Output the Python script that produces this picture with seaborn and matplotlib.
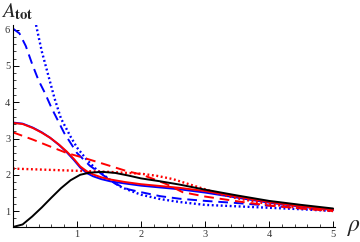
import numpy as np
import pandas as pd
import matplotlib; matplotlib.use("Agg")
import matplotlib.pyplot as plt
import seaborn as sns
from matplotlib.ticker import MultipleLocator

sns.set_style("ticks")
plt.rcParams["font.family"] = ["Liberation Serif", "DejaVu Serif"]
plt.rcParams["mathtext.fontset"] = "stix"

# values
black_x = [0.0, 0.15, 0.3, 0.45, 0.6, 0.75, 0.9, 1.05, 1.2, 1.4, 1.6, 1.8, 2.0, 2.3, 2.6, 3.0, 3.5, 4.0, 4.5, 5.0]
black_y = [0.56, 0.63, 0.85, 1.1, 1.37, 1.63, 1.85, 2.0, 2.06, 2.08, 2.05, 1.98, 1.9, 1.82, 1.73, 1.59, 1.43, 1.28, 1.17, 1.07]

red_x = [0.0, 0.15, 0.31, 0.45, 0.58, 0.72, 0.84, 0.95, 1.05, 1.15, 1.25, 1.38, 1.52, 1.75, 2.0, 2.3, 2.6, 3.0, 3.5, 4.0, 4.5, 5.0]
red_y = [3.43, 3.4, 3.29, 3.16, 3.02, 2.83, 2.64, 2.44, 2.23, 2.1, 2.01, 1.93, 1.87, 1.8, 1.74, 1.69, 1.64, 1.55, 1.4, 1.25, 1.13, 1.04]

red_dash_x = [0.0, 0.31, 0.58, 0.84, 1.1, 1.36, 1.78, 2.0, 2.2, 2.4, 2.65, 3.0, 3.5, 4.0, 4.5, 5.0]
red_dash_y = [3.17, 2.97, 2.78, 2.6, 2.47, 2.33, 2.1, 2.01, 1.88, 1.74, 1.52, 1.4, 1.27, 1.15, 1.07, 1.0]

red_dot_x = [0.0, 0.5, 1.0, 1.5, 2.0, 2.25, 2.5, 2.75, 3.0, 3.25, 3.5, 4.0, 4.5, 5.0]
red_dot_y = [2.17, 2.14, 2.11, 2.08, 2.03, 1.97, 1.88, 1.74, 1.6, 1.46, 1.35, 1.19, 1.08, 1.0]

blue_x = [0.0, 0.15, 0.31, 0.45, 0.58, 0.72, 0.84, 0.95, 1.05, 1.15, 1.25, 1.38, 1.52, 1.75, 2.0, 2.3, 2.6, 3.0, 3.5, 4.0, 4.5, 5.0]
blue_y = [3.44, 3.41, 3.3, 3.17, 3.02, 2.82, 2.62, 2.41, 2.2, 2.05, 1.96, 1.88, 1.82, 1.76, 1.7, 1.65, 1.6, 1.51, 1.37, 1.23, 1.12, 1.03]

blue_dash_x = [0.0, 0.1, 0.2, 0.3, 0.4, 0.5, 0.6, 0.8, 1.0, 1.2, 1.4, 1.6, 1.8, 2.0, 2.3, 2.6, 3.0, 3.5, 4.0, 4.5, 5.0]
blue_dash_y = [6.03, 5.9, 5.55, 5.05, 4.6, 4.25, 3.85, 3.15, 2.6, 2.25, 2.0, 1.75, 1.6, 1.52, 1.41, 1.34, 1.28, 1.22, 1.15, 1.08, 1.02]

blue_dot_x = [0.36, 0.45, 0.55, 0.65, 0.75, 0.9, 1.0, 1.15, 1.3, 1.5, 1.7, 2.0, 2.3, 2.6, 3.0, 3.5, 4.0, 4.5, 5.0]
blue_dot_y = [6.13, 5.4, 4.75, 4.1, 3.55, 3.05, 2.75, 2.42, 2.15, 1.88, 1.65, 1.45, 1.33, 1.25, 1.17, 1.13, 1.09, 1.05, 1.0]

curves = [
    (blue_dot_x, blue_dot_y, "#0000ff", (0, (0.8, 1.1)), 1.7),
    (blue_dash_x, blue_dash_y, "#0000ff", (0, (5, 3)), 1.4),
    (blue_x, blue_y, "#0000ff", "-", 1.4),
    (red_dot_x, red_dot_y, "#ff0000", (0, (0.8, 1.1)), 1.7),
    (red_dash_x, red_dash_y, "#ff0000", (0, (5, 3)), 1.4),
    (red_x, red_y, "#ff0000", "-", 1.4),
    (black_x, black_y, "black", "-", 1.4),
]

fig = plt.figure(figsize=(3.6, 2.42), dpi=100)
ax = fig.add_axes([13 / 360, 1 - 227 / 242, (335 - 13) / 360, (227 - 25) / 242])

for xs, ys, col, ls, lw in curves:
    df = pd.DataFrame({"x": xs, "y": ys})
    sns.lineplot(data=df, x="x", y="y", ax=ax, color=col, linestyle=ls, linewidth=lw,
                 sort=False, estimator=None)

ax.set_xlim(0, 5.03)
ax.set_ylim(0.56, 6.13)
for s in ["top", "right"]:
    ax.spines[s].set_visible(False)
for s in ["left", "bottom"]:
    ax.spines[s].set_linewidth(0.8)
    ax.spines[s].set_color("black")
ax.set_xticks([1, 2, 3, 4, 5])
ax.set_yticks([1, 2, 3, 4, 5, 6])
ax.xaxis.set_minor_locator(MultipleLocator(0.2))
ax.yaxis.set_minor_locator(MultipleLocator(0.2))
ax.tick_params(which="major", direction="in", length=4, width=0.7, labelsize=7.5, pad=2, colors="black")
ax.tick_params(which="minor", direction="in", length=2, width=0.6)
ax.tick_params(axis="both", labelcolor="#333333")
ax.set_xlabel(""); ax.set_ylabel("")
ax.set_facecolor("white")

fig.text(1 / 360, 1 - 17 / 242, r"$A_{\mathbf{tot}}$", fontsize=15, ha="left", va="baseline")
fig.text(354 / 360, 1 - 228 / 242, r"$\rho$", fontsize=17, ha="center", va="center")

fig.savefig("out.png", dpi=100)
